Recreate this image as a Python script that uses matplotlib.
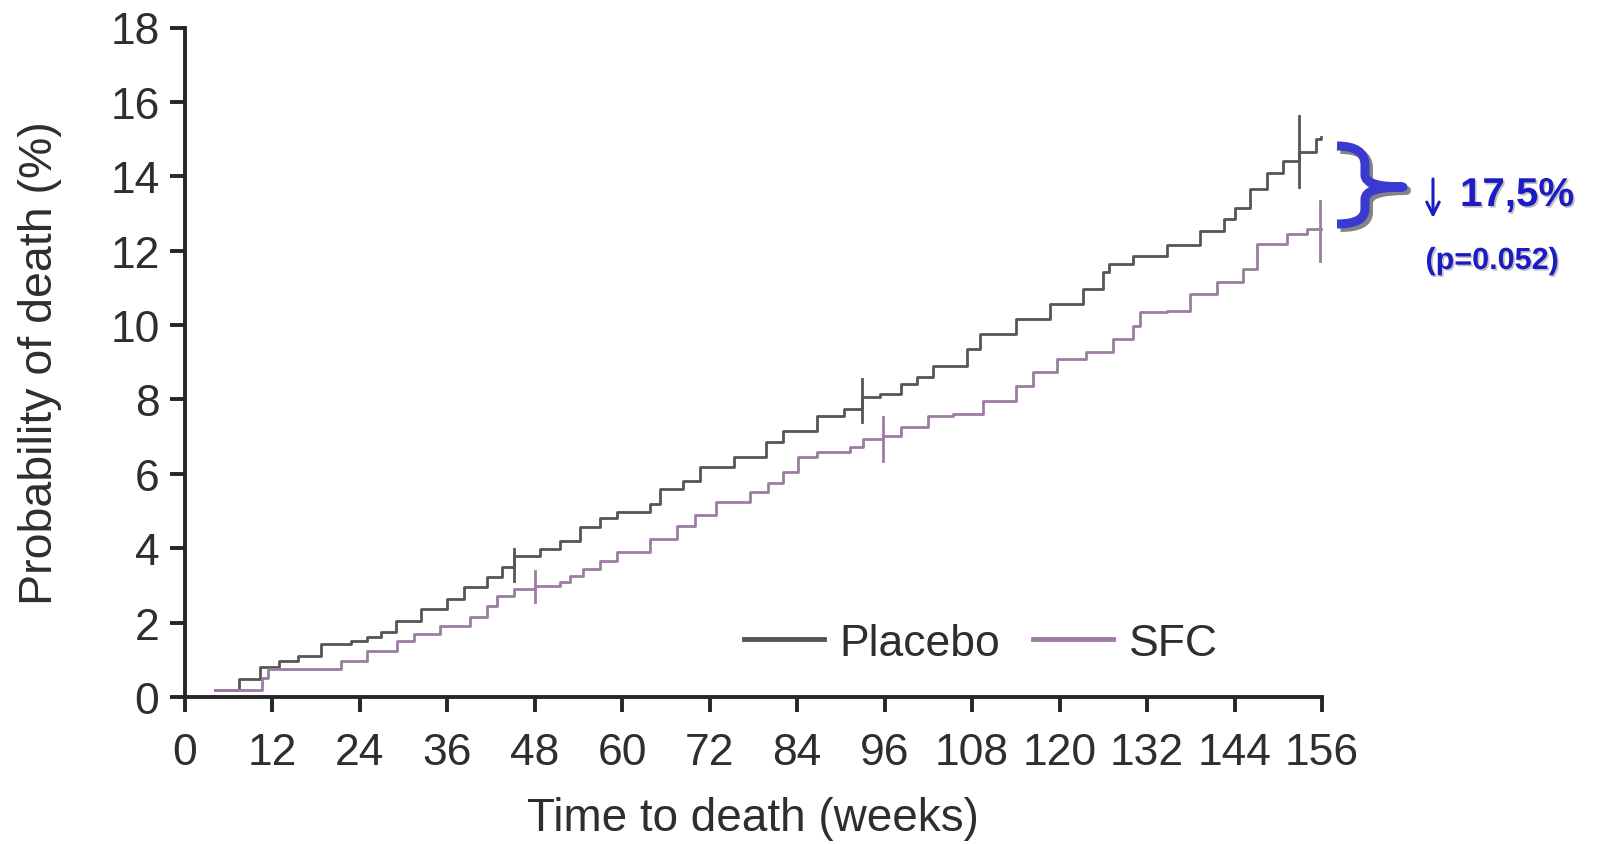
import matplotlib
matplotlib.use("Agg")
import matplotlib.pyplot as plt
import matplotlib.patheffects as pe
from matplotlib.path import Path
from matplotlib.patches import PathPatch

# Kaplan-Meier curves (weeks, % dead)
placebo_weeks = [4.2, 7.5, 10.3, 13, 15.5, 18.7, 22.8, 25, 26.9, 29, 32.4, 36, 38.3, 41.5,
                 43.5, 45.2, 48.8, 51.5, 54.3, 57, 59.3, 63.8, 65.2, 68.4, 70.7, 75.3, 79.8,
                 82.1, 86.7, 90.4, 92.9, 95.4, 98.2, 100.5, 102.7, 107.3, 109.1, 114.1, 118.7,
                 123.2, 125.9, 126.8, 130.1, 134.7, 139.3, 142.5, 144, 146.1, 148.4, 150.6,
                 152.9, 155.2, 155.8]
placebo_pct = [0.2, 0.48, 0.8, 0.98, 1.1, 1.42, 1.51, 1.6, 1.74, 2.05, 2.37, 2.63, 2.95, 3.22,
               3.5, 3.8, 3.98, 4.2, 4.57, 4.8, 4.97, 5.19, 5.59, 5.82, 6.18, 6.44, 6.85,
               7.16, 7.56, 7.74, 8.06, 8.15, 8.42, 8.6, 8.91, 9.36, 9.76, 10.16, 10.57,
               10.97, 11.42, 11.64, 11.87, 12.14, 12.54, 12.85, 13.15, 13.66, 14.1, 14.42,
               14.64, 15.0, 15.05]

sfc_weeks = [4.2, 10.6, 11.5, 21.4, 25, 29.2, 31.5, 35.1, 39.2, 41.5, 42.9, 45.2, 48, 51.5,
             52.8, 54.7, 57, 59.3, 63.8, 67.5, 70, 72.9, 77.5, 80, 82.1, 84.1, 86.7, 91.2,
             93.1, 95.8, 98.2, 101.9, 105.4, 109.5, 114.1, 116.4, 119.6, 123.7, 127.4, 130.1,
             131, 134.7, 137.9, 141.6, 145.2, 147.1, 151.2, 153.9, 155.8]
sfc_pct = [0.2, 0.5, 0.75, 0.98, 1.25, 1.51, 1.69, 1.92, 2.14, 2.45, 2.72, 2.9, 2.99, 3.1,
           3.26, 3.44, 3.65, 3.89, 4.25, 4.61, 4.9, 5.24, 5.5, 5.75, 6.04, 6.44, 6.58, 6.71,
           6.94, 7.03, 7.25, 7.56, 7.61, 7.97, 8.37, 8.73, 9.09, 9.27, 9.63, 9.98,
           10.34, 10.39, 10.84, 11.15, 11.51, 12.18, 12.45, 12.58, 12.58]

# censoring marks (week, low, high)
placebo_cens = [(45.2, 3.12, 3.98), (92.9, 7.39, 8.55), (152.9, 13.7, 15.62)]
sfc_cens = [(48.0, 2.55, 3.4), (95.8, 6.35, 7.53), (155.7, 11.72, 13.34)]

xticks = list(range(0, 157, 12))
yticks = list(range(0, 19, 2))

plt.rcParams['font.family'] = ['Liberation Sans', 'DejaVu Sans']

W, H = 1598, 845
fig = plt.figure(figsize=(W / 100, H / 100), dpi=100)
ax = fig.add_axes([184.5 / W, 1 - 698 / H, (1322 - 184.5) / W, (698 - 28.5) / H])

c_pl = '#555555'
c_sfc = '#9c7ca2'
c_ax = '#262626'
c_txt = '#2e2e2e'

ax.plot(placebo_weeks, placebo_pct, drawstyle='steps-post', color=c_pl, lw=2.0,
        label='Placebo', clip_on=False)
ax.plot(sfc_weeks, sfc_pct, drawstyle='steps-post', color=c_sfc, lw=2.0,
        label='SFC', clip_on=False)
for x, lo, hi in placebo_cens:
    ax.plot([x, x], [lo, hi], color=c_pl, lw=2.0, clip_on=False)
for x, lo, hi in sfc_cens:
    ax.plot([x, x], [lo, hi], color=c_sfc, lw=2.0, clip_on=False)

ax.set_xlim(0, 156)
ax.set_ylim(0, 18)
ax.set_xticks(xticks)
ax.set_yticks(yticks)
for s in ['top', 'right']:
    ax.spines[s].set_visible(False)
for s in ['left', 'bottom']:
    ax.spines[s].set_linewidth(2.8)
    ax.spines[s].set_color(c_ax)
ax.tick_params(direction='out', length=11, width=2.8, color=c_ax,
               labelsize=32, labelcolor=c_txt)
ax.tick_params(axis='y', pad=7)
ax.tick_params(axis='x', pad=14)
ax.set_xlabel('Time to death (weeks)', fontsize=33, color=c_txt, labelpad=17)
ax.set_ylabel('Probability of death (%)', fontsize=33.5, color=c_txt, labelpad=35)

leg = ax.legend(loc='center', bbox_to_anchor=(0.70, 0.08), ncol=2, frameon=False,
                fontsize=32, handlelength=1.8, handletextpad=0.35, columnspacing=0.75,
                labelcolor=c_txt)
for h in leg.get_lines():
    h.set_linewidth(3.5)

# brace annotation, in figure pixels
def fp(x, y):
    return (x / W, 1 - y / H)

verts = [fp(1337, 147), fp(1365, 147), fp(1365, 166), fp(1365, 176),
         fp(1365, 188), fp(1403, 188),
         fp(1365, 188), fp(1365, 200), fp(1365, 210),
         fp(1365, 225), fp(1337, 225)]
codes = [Path.MOVETO, Path.CURVE3, Path.CURVE3, Path.LINETO,
         Path.CURVE3, Path.CURVE3,
         Path.CURVE3, Path.CURVE3, Path.LINETO,
         Path.CURVE3, Path.CURVE3]
brace = PathPatch(Path(verts, codes), transform=fig.transFigure, fill=False,
                  edgecolor='#3a3ad0', lw=6.5, capstyle='butt', joinstyle='round',
                  path_effects=[pe.SimpleLineShadow(offset=(2.5, -2.5), shadow_color='#777777', alpha=0.9),
                                pe.Normal()])
fig.patches.append(brace)

blue = '#1c1cc4'
shadow = [pe.withSimplePatchShadow(offset=(1.2, -1.2), shadow_rgbFace='#999999', alpha=0.6)]
fig.add_artist(plt.Annotation('', xy=fp(1433, 219), xytext=fp(1433, 180),
                              xycoords='figure fraction', textcoords='figure fraction',
                              arrowprops=dict(arrowstyle='->,head_length=0.9,head_width=0.45',
                                              color=blue, lw=2.2, shrinkA=0, shrinkB=0)))
x, y = fp(1460, 207)
fig.text(x, y, '17,5%', fontsize=29, fontweight='bold', color=blue, ha='left',
         va='baseline', path_effects=shadow)
x, y = fp(1492, 262)
fig.text(x, y, '(p=0.052)', fontsize=22, fontweight='bold', color=blue, ha='center',
         va='center', path_effects=shadow)

fig.savefig('out.png', dpi=100)
